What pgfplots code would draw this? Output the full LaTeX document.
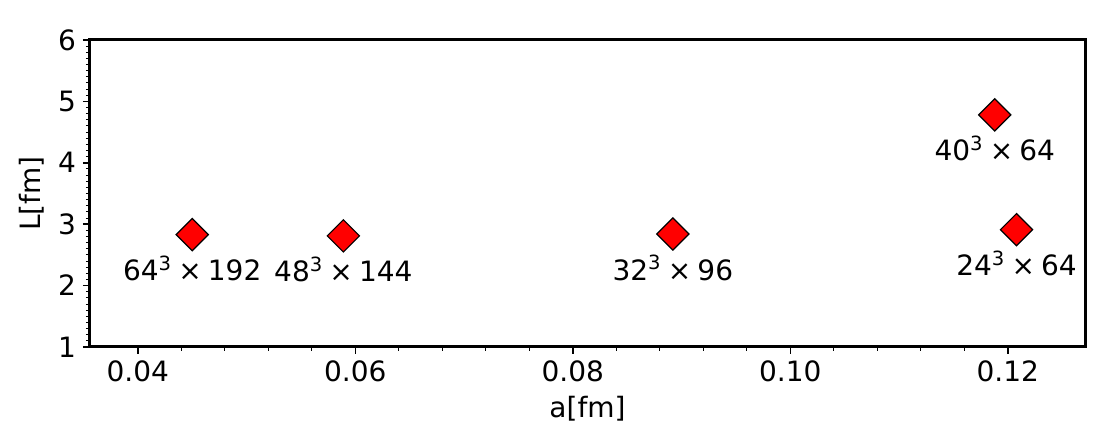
\documentclass[border=0pt]{standalone}
\usepackage{fontspec}
\setmainfont{DejaVu Sans}
\usepackage{pgfplots}
\pgfplotsset{compat=1.18}

\newcommand{\lab}{\fontsize{14}{16}\selectfont}
\newcommand{\tms}{\hspace{0.22em}×\hspace{0.22em}}

\begin{document}
\begin{tikzpicture}
\begin{axis}[
  scale only axis,
  width=497.5pt, height=153.5pt,
  xmin=0.0356, xmax=0.1271,
  ymin=1, ymax=6,
  xtick={0.04,0.06,0.08,0.10,0.12},
  ytick={1,2,3,4,5,6},
  minor x tick num=4,
  minor y tick num=9,
  tick pos=left,
  tick align=outside,
  major tick length=3.5pt,
  minor tick length=2pt,
  every tick/.style={black, line width=0.8pt},
  every minor tick/.style={black, line width=0.5pt},
  axis line style={line width=1.5pt},
  xlabel={a[fm]}, ylabel={L[fm]},
  label style={font=\lab},
  tick label style={font=\lab},
  xticklabel style={/pgf/number format/.cd, fixed, fixed zerofill, precision=2, assume math mode=true},
  yticklabel style={/pgf/number format/assume math mode=true},
  clip=false,
]
% lattice ensembles: spacing a vs box size L
\addplot[only marks, mark=square*, mark size=5.7pt,
  mark options={rotate=45, fill=red, draw=black, line width=0.6pt},
  nodes near coords, point meta=explicit symbolic,
  every node near coord/.append style={anchor=base, yshift=-23pt, font=\lab, text=black}]
  coordinates {
  (0.0450,2.83) [64\textsuperscript{3}\tms 192]
  (0.0589,2.81) [48\textsuperscript{3}\tms 144]
  (0.0892,2.84) [32\textsuperscript{3}\tms 96]
  (0.1188,4.78) [40\textsuperscript{3}\tms 64]
  (0.1208,2.91) [24\textsuperscript{3}\tms 64]
};
\end{axis}
\path ([shift={(-45pt,-50pt)}]current axis.south west)
  rectangle ([shift={(16.5pt,20pt)}]current axis.north east);
\end{tikzpicture}
\end{document}
